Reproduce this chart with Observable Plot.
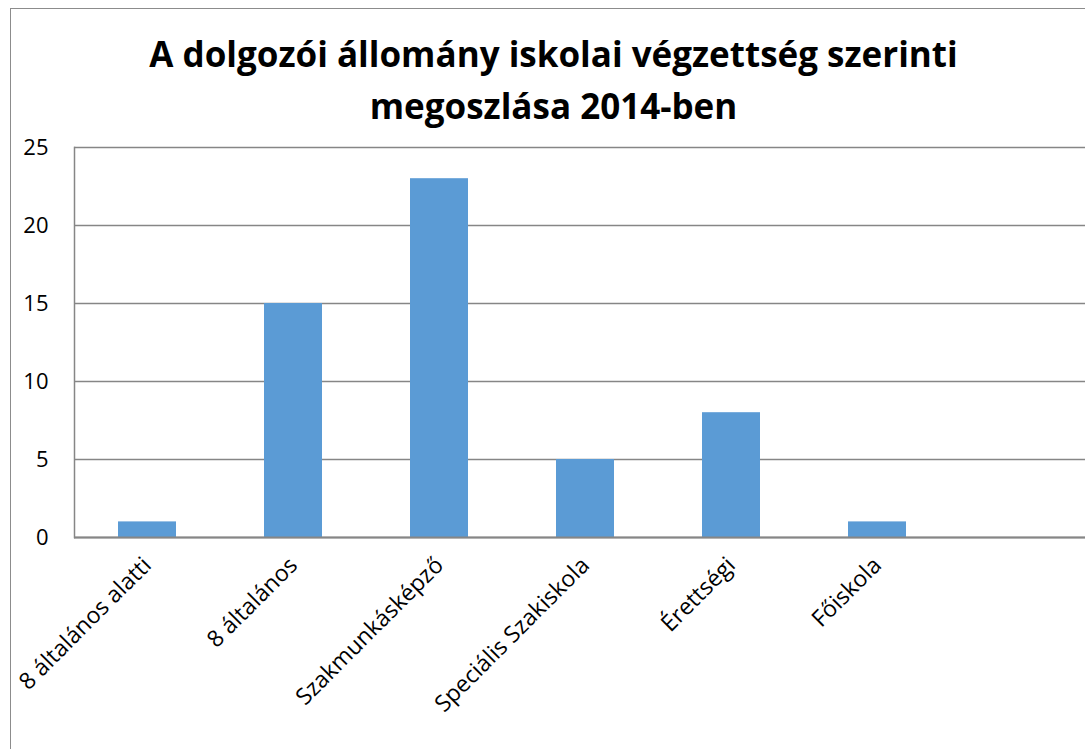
<!DOCTYPE html>
<html>
<head>
<meta charset="utf-8">
<script src="https://cdn.jsdelivr.net/npm/d3@7"></script>
<script src="https://cdn.jsdelivr.net/npm/@observablehq/plot@0.6"></script>
<style>
  html, body { margin: 0; padding: 0; background: #fff; overflow: hidden; }
  #frame { position: relative; width: 1085px; height: 749px; overflow: hidden; background: #fff; }
  #border { position: absolute; left: 10px; top: 8px; width: 1200px; height: 900px; border-left: 1.5px solid #8c8c8c; border-top: 1.5px solid #8c8c8c; box-sizing: border-box; }
  #title { position: absolute; left: 10px; width: 1087px; top: 28px; text-align: center; font-family: "Open Sans", sans-serif; font-weight: bold; font-size: 35px; line-height: 52px; color: #000; }
  #chart { position: absolute; left: 0; top: 120px; width: 1097px; }
  #chart svg { max-width: none !important; }
</style>
</head>
<body>
<div id="frame">
  <div id="border"></div>
  <div id="title">A dolgozói állomány iskolai végzettség szerinti<br>megoszlása 2014-ben</div>
  <div id="chart"></div>
</div>
<script>
const categories = ["8 általános alatti", "8 általános", "Szakmunkásképző", "Speciális Szakiskola", "Érettségi", "Főiskola", ""];
const values = [1, 15, 23, 5, 8, 1, null];
const yTicks = [0, 5, 10, 15, 20, 25];

const data = categories.map((c, i) => ({category: c, value: values[i]})).filter(d => d.value != null);

const chart = Plot.plot({
  width: 1097,
  height: 629,
  marginTop: 27,
  marginBottom: 212,
  marginLeft: 74,
  marginRight: 0,
  style: {fontFamily: "'Open Sans', sans-serif", fontSize: "22px", color: "#000", background: "transparent", maxWidth: "none"},
  x: {domain: categories, paddingInner: 0.6, paddingOuter: 0.3, label: null},
  y: {domain: [0, 25], ticks: yTicks, label: null},
  marks: [
    Plot.gridY(yTicks, {stroke: "#868686", strokeOpacity: 1, strokeWidth: 1.5}),
    Plot.frame({anchor: "left", stroke: "#868686", strokeWidth: 1.5}),
    Plot.barY(data, {x: "category", y: "value", fill: "#5B9BD5"}),
    Plot.ruleY([0], {stroke: "#868686", strokeWidth: 2}),
    Plot.axisY(yTicks, {tickSize: 0, tickPadding: 26, fontSize: 22, label: null}),
    Plot.axisX({tickSize: 0, tickPadding: 24, dx: 0, tickRotate: -45, fontSize: 23, label: null})
  ]
});
document.getElementById("chart").appendChild(chart);
</script>
</body>
</html>
